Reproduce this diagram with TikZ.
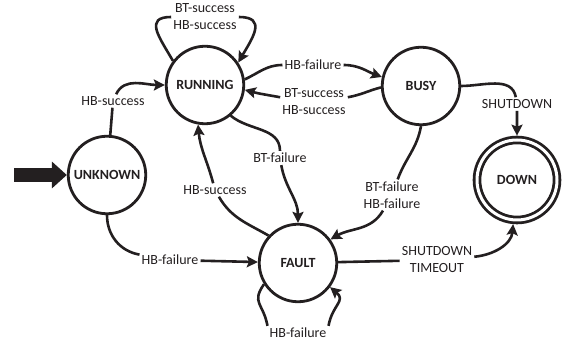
\documentclass[tikz,border=0pt]{standalone}
\usepackage{fontspec}
\setmainfont{Carlito}
\usetikzlibrary{arrows.meta}
\definecolor{ink}{RGB}{35,31,32}
\begin{document}
\begin{tikzpicture}[x = 1pt, y = 1pt,
    state/.style = {circle, draw = ink, line width = 2.8pt, minimum size = 77.5pt, inner sep = 0pt,
        font = \fontsize{14}{17}\selectfont\bfseries, text = ink},
    final/.style = {state, double, double distance = 3pt, minimum size = 80pt, outer sep = 4.3pt},
    lbl/.style = {inner sep = 2pt, align = center, font = \fontsize{14}{17}\selectfont, text = ink},
    arr/.style = {draw = ink, line width = 2.6pt, -{Stealth[length = 11pt, width = 11pt, inset = 2pt]}}]
    \useasboundingbox (0,0) rectangle (563,347);
    \node[state] (unknown) at (107,172) {UNKNOWN};
    \node[state] (running) at (205,262) {RUNNING};
    \node[state] (busy) at (421,261) {BUSY};
    \node[state] (fault) at (298,84) {FAULT};
    \node[final] (down) at (517,167) {DOWN};
    \node[lbl] (lUR) at (113,246) {HB-success};
    \node[lbl] (lRR) at (205,330) {BT-success\\HB-success};
    \node[lbl] (lRB) at (313,282) {HB-failure};
    \node[lbl] (lBR) at (314,245) {BT-success\\HB-success};
    \node[lbl] (lRF) at (280,189) {BT-failure};
    \node[lbl] (lFR) at (215,157) {HB-success};
    \node[lbl] (lBF) at (392,152) {BT-failure\\HB-failure};
    \node[lbl] (lBD) at (517,243) {SHUTDOWN};
    \node[lbl] (lUF) at (170,87) {HB-failure};
    \node[lbl] (lFD) at (437,87) {SHUTDOWN\\TIMEOUT};
    \node[lbl] (lFF) at (298,14) {HB-failure};
    \coordinate (start) at (14,172);
    \draw[ink, line width = 14pt, -{Triangle[length = 15pt, width = 26pt]}] (start) -- (unknown.west);
    \draw[arr] (unknown) -- (lUR) to[out = 65, in = 180] (running);
    \draw[arr] (running.143) to[out = 120, in = 180, looseness = 1.6] (lRR)
        to[out = 0, in = 60, looseness = 1.6] (running.34);
    \draw[arr] (running.8) to[out = 25, in = 180] (lRB) to[out = 0, in = 160] (busy.167);
    \draw[arr] (busy.182) to[out = 195, in = 10] (lBR.8) (lBR.172) to[out = 170, in = -15] (running.-7);
    \draw[arr] (running.-50) to[out = -40, in = 90] (lRF) to[out = -80, in = 90] (fault);
    \draw[arr] (fault.137) to[out = 150, in = -60] (lFR) to[out = 105, in = -85] (running.-100);
    \draw[arr] (busy.-90) to[out = -100, in = 70] (lBF) to[out = -120, in = 30] (fault.36);
    \draw[arr] (busy.east) to[out = 0, in = 100] (lBD) -- (down);
    \draw[arr] (unknown.south) to[out = -90, in = 170] (lUF) -- (fault);
    \draw[arr] (fault) -- (lFD) to[out = 5, in = -95] (down);
    \draw[arr] (fault.-148) to[out = -125, in = 100, looseness = 1.4] (lFF.north west)
        (lFF.north east) to[out = 80, in = -40, looseness = 1.4] (fault.-37);
\end{tikzpicture}
\end{document}
